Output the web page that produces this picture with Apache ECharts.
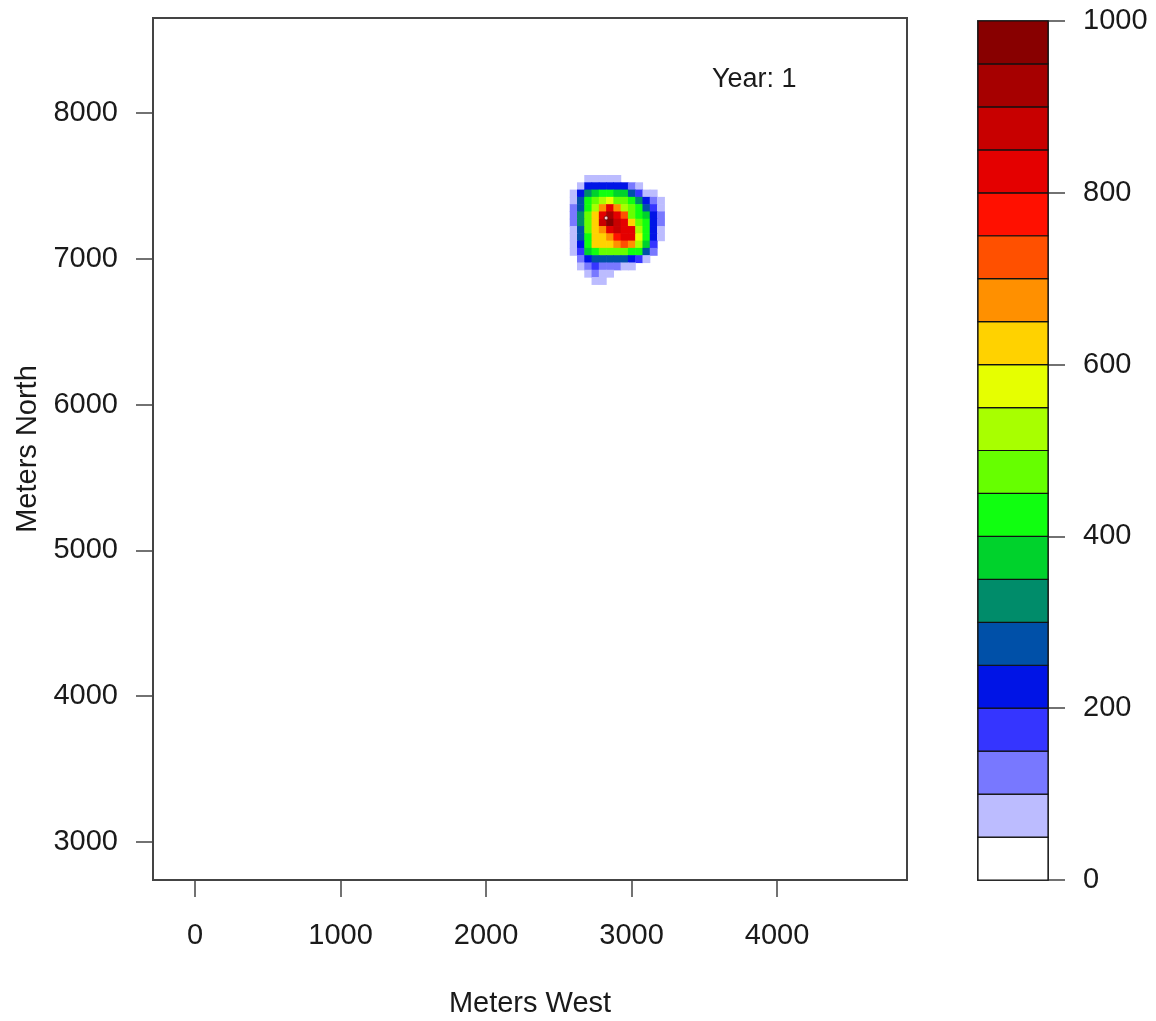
<!DOCTYPE html>
<html>
<head>
<meta charset="utf-8">
<title>Plume concentration – Year 1</title>
<script src="https://cdn.jsdelivr.net/npm/echarts@6/dist/echarts.min.js"></script>
<style>
  html, body { margin: 0; padding: 0; background: #ffffff; }
  #chart { width: 1156px; height: 1021px; }
</style>
</head>
<body>
<div id="chart"></div>
<script>
// Grid cell centres (metres) and cell size
const cellSize = 50;
const plumeX = [2600, 2650, 2700, 2750, 2800, 2850, 2900, 2950, 3000, 3050, 3100, 3150, 3200];
const plumeY = [7550, 7500, 7450, 7400, 7350, 7300, 7250, 7200, 7150, 7100, 7050, 7000, 6950, 6900, 6850];

// Concentration per cell, one row per plumeY entry, one column per plumeX entry
const concentration = [
  [  0,  30,  60,  75,  75,  75,  65,  45,   0,   0,   0,   0,   0],
  [ 20,  90, 210, 240, 240, 230, 220, 200, 110,  70,  30,   0,   0],
  [ 70, 210, 310, 390, 410, 400, 390, 380, 250, 150,  90,  50,   0],
  [ 90, 250, 400, 450, 520, 560, 480, 450, 420, 300, 200, 120,  60],
  [100, 280, 430, 500, 650, 820, 680, 520, 450, 400, 280, 180,  90],
  [120, 300, 450, 620, 830, 900, 840, 700, 480, 430, 350, 220, 110],
  [110, 300, 460, 640, 850, 960, 870, 830, 620, 450, 400, 230, 100],
  [ 90, 280, 450, 620, 680, 830, 860, 840, 800, 520, 420, 230,  90],
  [ 60, 260, 430, 610, 630, 660, 790, 830, 810, 580, 400, 200,  60],
  [ 60, 220, 420, 600, 620, 630, 650, 700, 690, 500, 370, 170,  40],
  [ 50, 180, 380, 440, 460, 470, 470, 460, 440, 400, 280, 110,   0],
  [ 20, 110, 230, 270, 280, 280, 270, 250, 230, 180,  90,  40,   0],
  [  0,  80, 140, 150, 140, 130, 110,  90,  70,  40,   0,   0,   0],
  [  0,  40,  90, 100,  90,  70,  40,   0,   0,   0,   0,   0,   0],
  [  0,   0,  40,  55,  52,   0,   0,   0,   0,   0,   0,   0,   0]
];

// Source location marker
const sourcePoint = [2825, 7280];

// Contour level breaks and fill colours (lowest band first)
const levelBreaks = [0, 50, 100, 150, 200, 250, 300, 350, 400, 450, 500,
                     550, 600, 650, 700, 750, 800, 850, 900, 950, 1000];
const levelColors = [
  '#ffffff', '#bcbcff', '#7878ff', '#3535ff', '#0014e6',
  '#0050a8', '#008c6a', '#00d22c', '#10ff10', '#66ff00',
  '#a8ff00', '#e6ff00', '#ffd200', '#ff9000', '#ff5000',
  '#ff1000', '#e40000', '#c80000', '#a60000', '#880000'
];

// Axis tick labels
const xTicks = [0, 1000, 2000, 3000, 4000];
const yTicks = [3000, 4000, 5000, 6000, 7000, 8000];
const barTicks = [0, 200, 400, 600, 800, 1000];

function levelColor(v) {
  for (let i = levelBreaks.length - 2; i >= 0; i--) {
    if (v >= levelBreaks[i]) return levelColors[i];
  }
  return levelColors[0];
}

// Flatten the grid into [x, y, value] cells
const cells = [];
plumeY.forEach((y, r) => {
  plumeX.forEach((x, c) => {
    const v = concentration[r][c];
    if (v >= levelBreaks[1]) cells.push([x, y, v]);
  });
});

// Colour key bands [low, high, colourIndex]
const bands = levelColors.map((col, i) => [levelBreaks[i], levelBreaks[i + 1], i]);

const textColor = '#1a1a1a';
const fontFamily = 'Liberation Sans, Arial, sans-serif';
const frameColor = '#444444';
const fontSize = 29;
const plain = v => String(v);

const chart = echarts.init(document.getElementById('chart'), null, { renderer: 'canvas' });

chart.setOption({
  backgroundColor: '#ffffff',
  animation: false,
  textStyle: { fontFamily: fontFamily, color: textColor },
  grid: [
    { left: 153, top: 18, width: 754, height: 862, show: true, containLabel: false,
      outerBoundsMode: 'none',
      borderColor: frameColor, borderWidth: 2, backgroundColor: 'transparent' },
    { left: 978, top: 21, width: 70, height: 859, show: true, containLabel: false,
      outerBoundsMode: 'none',
      borderColor: frameColor, borderWidth: 2, backgroundColor: 'transparent' }
  ],
  xAxis: [
    {
      gridIndex: 0, type: 'value', min: -289, max: 4893,
      name: 'Meters West', nameLocation: 'middle', nameGap: 109,
      nameTextStyle: { fontSize: fontSize, color: textColor, fontFamily: fontFamily },
      splitLine: { show: false },
      axisLine: { show: false, onZero: false },
      axisTick: { show: true, inside: false, length: 17, customValues: xTicks,
                  lineStyle: { color: frameColor, width: 1.5 } },
      axisLabel: { customValues: xTicks, margin: 41, fontSize: fontSize, color: textColor,
                   fontFamily: fontFamily, formatter: plain }
    },
    {
      gridIndex: 1, type: 'value', min: 0, max: 1, show: false
    }
  ],
  yAxis: [
    {
      gridIndex: 0, type: 'value', min: 2739, max: 8652,
      name: 'Meters North', nameLocation: 'middle', nameGap: 100, nameRotate: 90,
      nameTextStyle: { fontSize: fontSize, color: textColor, fontFamily: fontFamily },
      splitLine: { show: false },
      axisLine: { show: false, onZero: false },
      axisTick: { show: true, inside: false, length: 17, customValues: yTicks,
                  lineStyle: { color: frameColor, width: 1.5 } },
      axisLabel: { customValues: yTicks, margin: 35, fontSize: fontSize, color: textColor,
                   fontFamily: fontFamily, formatter: plain }
    },
    {
      gridIndex: 1, type: 'value', min: 0, max: 1000, interval: 200, position: 'right',
      splitLine: { show: false },
      axisLine: { show: false, onZero: false },
      axisTick: { show: true, inside: false, length: 17,
                  lineStyle: { color: frameColor, width: 1.5 } },
      axisLabel: { margin: 35, fontSize: fontSize, color: textColor, fontFamily: fontFamily,
                   formatter: v => (barTicks.indexOf(v) >= 0 ? String(v) : '') }
    }
  ],
  graphic: [
    {
      type: 'text', left: 712, top: 66,
      style: { text: 'Year: 1', fontSize: 27, fill: textColor, fontFamily: fontFamily }
    }
  ],
  series: [
    {
      // Concentration field drawn cell by cell
      type: 'custom', xAxisIndex: 0, yAxisIndex: 0,
      data: cells,
      clip: true,
      renderItem: function (params, api) {
        const x = api.value(0), y = api.value(1), v = api.value(2);
        const p1 = api.coord([x - cellSize / 2, y + cellSize / 2]);
        const p2 = api.coord([x + cellSize / 2, y - cellSize / 2]);
        return {
          type: 'rect',
          shape: { x: p1[0], y: p1[1], width: p2[0] - p1[0] + 0.6, height: p2[1] - p1[1] + 0.6 },
          style: { fill: levelColor(v) }
        };
      }
    },
    {
      // Source location
      type: 'scatter', xAxisIndex: 0, yAxisIndex: 0,
      data: [sourcePoint], symbol: 'circle', symbolSize: 4,
      itemStyle: { color: '#ffffff', borderColor: '#5a0000', borderWidth: 1 }
    },
    {
      // Colour key
      type: 'custom', xAxisIndex: 1, yAxisIndex: 1,
      data: bands,
      renderItem: function (params, api) {
        const lo = api.value(0), hi = api.value(1), idx = api.value(2);
        const p1 = api.coord([0, hi]);
        const p2 = api.coord([1, lo]);
        return {
          type: 'rect',
          shape: { x: p1[0], y: p1[1], width: p2[0] - p1[0], height: p2[1] - p1[1] },
          style: { fill: levelColors[idx], stroke: '#111111', lineWidth: 1.2 }
        };
      }
    }
  ]
});
</script>
</body>
</html>
